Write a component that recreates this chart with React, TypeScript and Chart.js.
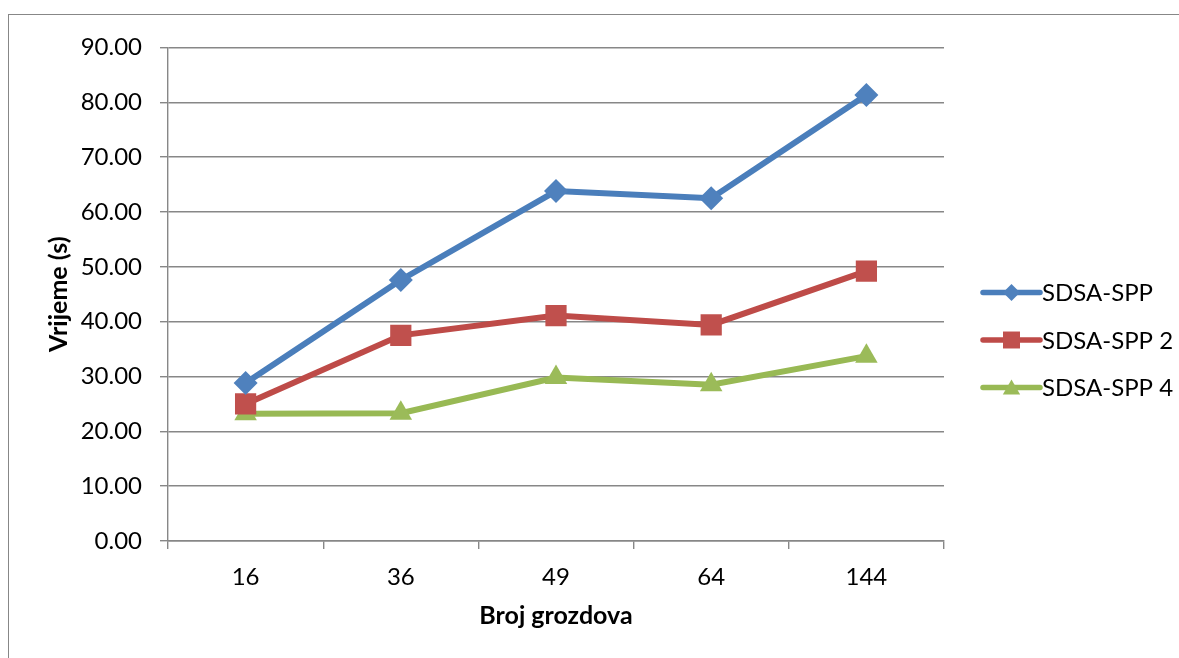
import React, { useEffect, useRef } from "react";
import { Chart, registerables } from "chart.js";

Chart.register(...registerables);

const categories = ["16", "36", "49", "64", "144"];
const seriesNames = ["SDSA-SPP", "SDSA-SPP 2", "SDSA-SPP 4"];
const sdsaSpp = [28.8, 47.6, 63.8, 62.5, 81.3];
const sdsaSpp2 = [25.0, 37.5, 41.1, 39.4, 49.2];
const sdsaSpp4 = [23.2, 23.3, 29.8, 28.5, 33.7];
const yMin = 0;
const yMax = 90;
const yStep = 10;
const xTitle = "Broj grozdova";
const yTitle = "Vrijeme (s)";

const FONT = "Lato, 'Open Sans', sans-serif";
const GRID = "#878787";
const TICK_SIZE = 24;
const TITLE_SIZE = 25;

const styles = [
  { line: "#4A7EBB", fill: "#4F81BD", shape: "rectRot", r: 12, lr: 8.5 },
  { line: "#BE4B48", fill: "#C0504D", shape: "rect", r: 15, lr: 12 },
  { line: "#98B954", fill: "#9BBB59", shape: "triangle", r: 13, lr: 10 },
];

function marker(ctx: CanvasRenderingContext2D, shape: string, x: number, y: number, r: number) {
  ctx.beginPath();
  if (shape === "rectRot") {
    ctx.moveTo(x, y - r);
    ctx.lineTo(x + r, y);
    ctx.lineTo(x, y + r);
    ctx.lineTo(x - r, y);
  } else if (shape === "rect") {
    const s = r * Math.SQRT1_2;
    ctx.rect(x - s, y - s, 2 * s, 2 * s);
  } else {
    ctx.moveTo(x, y - r);
    ctx.lineTo(x + r * 0.866, y + r / 2);
    ctx.lineTo(x - r * 0.866, y + r / 2);
  }
  ctx.closePath();
  ctx.fill();
}

const legendPlugin = {
  id: "customLegend",
  afterDraw(chart: any) {
    const ctx = chart.ctx as CanvasRenderingContext2D;
    const area = chart.chartArea;
    const x0 = area.right + 39;
    const lineLen = 57;
    const gap = 47.5;
    const cy = chart.height / 2 + 3.5;
    ctx.save();
    chart.data.datasets.forEach((ds: any, i: number) => {
      const st = styles[i];
      const y = cy + (i - 1) * gap;
      ctx.strokeStyle = st.line;
      ctx.lineWidth = 5.5;
      ctx.lineCap = "round";
      ctx.beginPath();
      ctx.moveTo(x0, y);
      ctx.lineTo(x0 + lineLen, y);
      ctx.stroke();
      ctx.fillStyle = st.fill;
      marker(ctx, st.shape, x0 + lineLen / 2, y + (st.shape === "triangle" ? 2 : 0), st.lr);
      ctx.fillStyle = "#000";
      ctx.font = `${TICK_SIZE}px ${FONT}`;
      ctx.textAlign = "left";
      ctx.textBaseline = "middle";
      ctx.fillText(ds.label, x0 + lineLen + 2, y + 1);
    });
    ctx.restore();
  },
};

export default function App() {
  const ref = useRef<HTMLCanvasElement>(null);
  useEffect(() => {
    if (!ref.current) return;
    const values = [sdsaSpp, sdsaSpp2, sdsaSpp4];
    const chart = new Chart(ref.current, {
      type: "line",
      data: {
        labels: categories,
        datasets: values.map((v, i) => ({
          label: seriesNames[i],
          data: v,
          borderColor: styles[i].line,
          backgroundColor: styles[i].fill,
          borderWidth: 6,
          pointStyle: styles[i].shape as any,
          pointRadius: styles[i].r,
          pointBorderWidth: 0,
          pointBackgroundColor: styles[i].fill,
          pointBorderColor: styles[i].fill,
          tension: 0,
        })),
      },
      options: {
        responsive: false,
        animation: false,
        layout: { padding: { top: 29, left: 0, right: 235, bottom: 0 } },
        plugins: { legend: { display: false }, tooltip: { enabled: false } },
        scales: {
          x: {
            type: "category",
            offset: true,
            grid: {
              display: true,
              offset: true,
              drawOnChartArea: false,
              drawTicks: true,
              tickLength: 8,
              color: GRID,
              lineWidth: 1.4,
            },
            border: { display: true, color: GRID, width: 1.4 },
            ticks: { color: "#000", font: { family: FONT, size: TICK_SIZE }, padding: 13.5 },
            title: {
              display: true,
              text: xTitle,
              color: "#000",
              font: { family: FONT, size: TITLE_SIZE, weight: "bold" },
              padding: { top: 0, bottom: 27 },
            },
            afterFit(scale: any) {
              scale.height = 117;
            },
          },
          y: {
            min: yMin,
            max: yMax,
            grid: { color: GRID, lineWidth: 1.4, tickLength: 8, drawTicks: true },
            border: { display: true, color: GRID, width: 1.4 },
            ticks: {
              stepSize: yStep,
              color: "#000",
              font: { family: FONT, size: TICK_SIZE },
              padding: 18,
              callback: (v: any) => Number(v).toFixed(2),
            },
            title: {
              display: true,
              text: yTitle,
              color: "#000",
              font: { family: FONT, size: TITLE_SIZE, weight: "bold" },
              padding: { top: 35, bottom: 0 },
            },
            afterFit(scale: any) {
              scale.width = 159;
            },
          },
        },
      },
      plugins: [legendPlugin],
    });
    return () => chart.destroy();
  }, []);

  return (
    <div style={{ position: "fixed", inset: 0, overflow: "hidden", background: "#fff" }}>
      <div
        style={{
          position: "absolute",
          left: 8,
          top: 14,
          width: 1300,
          height: 800,
          border: "1px solid #878787",
        }}
      >
        <canvas ref={ref} width={1170} height={643} style={{ display: "block" }} />
      </div>
    </div>
  );
}
